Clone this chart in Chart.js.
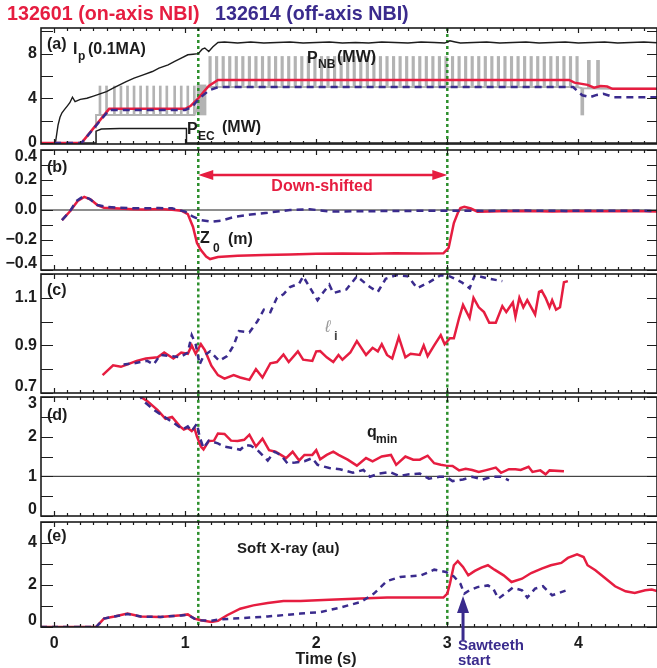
<!DOCTYPE html>
<html>
<head>
<meta charset="utf-8">
<script src="https://cdn.jsdelivr.net/npm/chart.js@4"></script>
<style>
  body { margin: 0; background: #fff; }
  #wrap { position: relative; width: 657px; height: 668px; overflow: hidden; }
  canvas { position: absolute; left: 0; }
</style>
</head>
<body>
<div id="wrap">
  <canvas id="pa"></canvas>
  <canvas id="pb"></canvas>
  <canvas id="pc"></canvas>
  <canvas id="pd"></canvas>
  <canvas id="pe"></canvas>
</div>
<script>
// ---- data (time in s) ----
const xTicks = [0, 1, 2, 3, 4]
const xLabels = ['0', '1', '2', '3', '4']
const switchTimes = [1.1, 3.0]   // green dotted markers

// (a) Ip, P_NB, P_EC
const ipT = [-0.1,0.01,0.03,0.045,0.06,0.08,0.1,0.12,0.14,0.16,0.2,0.25,0.3,0.35,0.4,0.45,0.5,0.55,0.61,0.68,0.75,0.8,0.87,0.92,0.97,1.02,1.06,1.1,1.13,1.15,1.18,1.21,1.25,1.3,1.4,1.5,1.6,1.7,1.8,1.9,2.0,2.1,2.2,2.3,2.4,2.5,2.6,2.7,2.8,2.9,2.98,3.02,3.06,3.1,3.2,3.3,3.4,3.5,3.6,3.7,3.8,3.9,4.0,4.1,4.2,4.3,4.4,4.5,4.6]
const ip = [0,0,1.6,2.3,2.7,3.0,3.3,3.6,4.1,3.7,3.9,4.0,4.2,4.4,4.6,4.9,5.2,5.5,5.8,6.1,6.4,6.7,7.0,7.3,7.6,7.9,7.95,8.0,8.4,8.5,8.2,8.6,9.0,9.05,8.95,9.05,8.95,9.0,9.05,8.95,9.0,9.05,8.95,9.0,8.95,9.05,9.0,8.95,9.05,9.0,8.95,9.15,9.05,8.95,9.0,9.05,8.95,9.0,9.05,8.95,9.0,9.05,8.95,9.0,9.05,8.95,9.0,9.05,8.98]
const pnbRedT = [-0.1,0.21,0.42,1.0,1.04,1.1,1.18,1.25,3.93,3.97,4.07,4.12,4.17,4.22,4.26,4.6]
const pnbRed = [0,0,3.05,3.05,3.3,4.0,5.1,5.64,5.64,5.4,5.2,4.95,5.1,5.05,4.85,4.85]
const pnbPurT = [0,0.21,0.42,1.0,1.05,1.1,1.18,1.25,3.96,4.03,4.09,4.14,4.19,4.27,4.6]
const pnbPur = [0,0,2.95,2.95,3.2,3.9,4.7,5.0,5.0,4.27,4.1,4.3,4.4,4.1,4.1]
const pecT = [-0.1,0.32,0.32,0.36,0.5,1.01,1.01,4.6]
const pec = [0,0,1.05,1.25,1.3,1.3,0,0]
const nbBaseT = [0.32,0.32,1.07,1.16,1.19,3.99,4.03,4.25,4.6]
const nbBase = [1.3,2.5,2.5,5.0,5.0,5.0,4.9,4.85,4.85]
const nbPulse1 = [0.35,0.40,0.46,0.51,0.56,0.61,0.66,0.71,0.76,0.81,0.86,0.92,0.97,1.02,1.07]
const nbPulse1Range = [2.5, 5.1]
const nbBlock = [1.125]
const nbBlockRange = [2.5, 5.2]
const nbPulse2 = [1.19,1.24,1.29,1.34,1.39,1.44,1.49,1.54,1.59,1.64,1.69,1.74,1.79,1.84,1.89,1.94,1.99,2.04,2.09,2.14,2.19,2.24,2.29,2.34,2.39,2.44,2.49,2.54,2.59,2.64,2.69,2.74,2.79,2.84,2.89,2.94,2.99,3.04,3.09,3.14,3.19,3.24,3.29,3.34,3.39,3.44,3.49,3.54,3.59,3.64,3.69,3.74,3.79,3.84,3.89,3.94,3.99]
const nbPulse2Range = [5.0, 7.75]
const nbPulse3 = [4.03, 4.08, 4.15]
const nbPulse3Lo = [2.5, 4.9, 4.9]
const nbPulse3Hi = [4.9, 7.4, 7.4]

// (b) Z0
const z0RedT = [0.06,0.12,0.18,0.23,0.28,0.33,0.38,0.5,0.6,0.7,0.8,0.9,0.97,1.02,1.06,1.09,1.12,1.16,1.19,1.25,1.4,1.6,1.8,2.0,2.2,2.4,2.6,2.8,2.97,3.01,3.05,3.08,3.1,3.13,3.18,3.23,3.4,3.6,3.8,4.0,4.2,4.4,4.6]
const z0Red = [-0.067,-0.01,0.06,0.087,0.07,0.033,0.015,0.01,0.005,0.003,0.006,0.002,-0.005,-0.027,-0.113,-0.22,-0.267,-0.31,-0.327,-0.313,-0.305,-0.3,-0.297,-0.292,-0.29,-0.292,-0.288,-0.29,-0.289,-0.253,-0.087,-0.02,0.013,0.022,0.01,-0.011,-0.008,-0.006,-0.01,-0.007,-0.009,-0.006,-0.01]
const z0PurT = [0.06,0.12,0.17,0.22,0.27,0.33,0.4,0.5,0.6,0.7,0.8,0.9,1.0,1.06,1.12,1.2,1.28,1.37,1.5,1.63,1.8,1.95,2.11,2.4,2.7,3.0,3.3,3.6,3.9,4.2,4.6]
const z0Pur = [-0.067,-0.01,0.06,0.089,0.075,0.033,0.02,0.015,0.012,0.012,0.013,0.011,-0.011,-0.045,-0.067,-0.078,-0.07,-0.047,-0.03,-0.018,0.0,0.005,-0.01,-0.008,-0.006,-0.005,-0.006,-0.004,-0.006,-0.005,-0.006]

// (c) li
const liRedT = [0.37,0.45,0.51,0.56,0.63,0.7,0.79,0.84,0.91,0.97,1.02,1.05,1.08,1.12,1.15,1.2,1.25,1.3,1.37,1.42,1.49,1.54,1.59,1.65,1.7,1.75,1.79,1.86,1.9,1.97,2.0,2.03,2.08,2.13,2.17,2.2,2.26,2.31,2.38,2.43,2.47,2.5,2.54,2.58,2.63,2.68,2.72,2.79,2.82,2.85,2.9,2.95,2.98,3.02,3.05,3.09,3.12,3.17,3.2,3.24,3.28,3.32,3.37,3.42,3.45,3.5,3.52,3.55,3.58,3.61,3.67,3.7,3.72,3.75,3.78,3.8,3.83,3.86,3.89,3.92]
const liRed = [0.775,0.816,0.81,0.82,0.835,0.845,0.85,0.87,0.845,0.87,0.865,0.9,0.865,0.905,0.88,0.815,0.775,0.76,0.775,0.765,0.755,0.8,0.765,0.825,0.83,0.862,0.83,0.875,0.84,0.835,0.875,0.876,0.85,0.83,0.86,0.84,0.87,0.918,0.86,0.89,0.875,0.905,0.86,0.845,0.935,0.85,0.865,0.86,0.9,0.855,0.9,0.943,0.905,0.93,0.93,1.015,1.07,1.015,1.1,1.06,1.04,0.995,0.995,1.065,1.04,1.08,1.02,1.1,1.06,1.09,1.03,1.125,1.13,1.1,1.06,1.09,1.05,1.06,1.165,1.17]
const liPurT = [0.53,0.61,0.71,0.76,0.81,0.89,0.96,1.02,1.05,1.08,1.11,1.14,1.19,1.26,1.32,1.37,1.41,1.49,1.55,1.6,1.65,1.7,1.75,1.8,1.87,1.9,1.96,2.01,2.05,2.1,2.13,2.23,2.31,2.41,2.47,2.53,2.61,2.7,2.77,2.86,2.95,3.02,3.11,3.17,3.21,3.32,3.42]
const liPur = [0.82,0.825,0.835,0.82,0.86,0.855,0.85,0.87,0.943,0.905,0.82,0.855,0.875,0.835,0.855,0.9,0.96,0.955,1.0,1.05,1.04,1.1,1.115,1.145,1.16,1.19,1.135,1.09,1.12,1.155,1.12,1.135,1.19,1.145,1.125,1.18,1.195,1.19,1.14,1.165,1.195,1.19,1.165,1.14,1.195,1.18,1.17]

// (d) qmin
const qRedT = [0.66,0.71,0.79,0.85,0.9,0.96,0.99,1.02,1.05,1.07,1.09,1.12,1.14,1.18,1.22,1.25,1.3,1.35,1.4,1.45,1.49,1.54,1.59,1.64,1.69,1.73,1.77,1.82,1.87,1.91,1.97,2.0,2.03,2.08,2.13,2.17,2.24,2.31,2.38,2.43,2.5,2.57,2.61,2.68,2.74,2.79,2.85,2.9,2.95,2.99,3.04,3.09,3.14,3.19,3.24,3.29,3.37,3.41,3.47,3.52,3.56,3.62,3.65,3.71,3.75,3.78,3.89]
const qRed = [3.0,2.9,2.67,2.45,2.5,2.26,2.18,2.22,2.14,2.22,2.0,1.75,1.68,1.89,1.9,2.08,2.07,1.9,1.89,1.92,2.05,1.75,1.95,1.66,1.62,1.54,1.46,1.62,1.4,1.54,1.54,1.66,1.43,1.54,1.62,1.54,1.42,1.27,1.46,1.38,1.5,1.54,1.29,1.5,1.42,1.42,1.52,1.33,1.29,1.27,1.26,1.15,1.19,1.16,1.11,1.15,1.22,1.09,1.18,1.18,1.16,1.24,1.11,1.15,1.05,1.15,1.13]
const qPurT = [0.64,0.68,0.76,0.84,0.92,0.98,1.02,1.05,1.09,1.11,1.14,1.18,1.25,1.3,1.37,1.42,1.46,1.5,1.55,1.63,1.68,1.73,1.78,1.84,1.91,1.97,2.01,2.1,2.18,2.28,2.36,2.41,2.48,2.56,2.63,2.71,2.79,2.86,2.94,2.99,3.04,3.12,3.19,3.27,3.34,3.41,3.47]
const qPur = [3.1,2.9,2.68,2.5,2.33,2.18,2.26,2.14,2.33,2.0,1.71,1.9,1.83,1.75,1.71,1.67,1.79,1.77,1.67,1.4,1.62,1.54,1.33,1.35,1.38,1.46,1.29,1.21,1.18,1.09,1.16,0.99,1.07,1.11,1.01,1.05,1.07,0.94,0.99,0.99,0.88,0.92,0.99,0.92,0.99,0.99,0.9]

// (e) soft x-ray
const sxRedT = [-0.1,0.32,0.35,0.38,0.46,0.56,0.66,0.81,0.97,1.02,1.07,1.12,1.2,1.25,1.32,1.42,1.52,1.63,1.75,1.88,2.01,2.1,2.29,2.54,2.8,2.97,3.0,3.02,3.05,3.08,3.12,3.16,3.21,3.26,3.31,3.36,3.43,3.49,3.57,3.64,3.72,3.79,3.87,3.92,3.99,4.04,4.07,4.13,4.21,4.28,4.36,4.43,4.51,4.56,4.6]
const sxRed = [0,0,0.2,0.4,0.5,0.64,0.5,0.48,0.56,0.6,0.4,0.32,0.24,0.29,0.56,0.87,1.03,1.14,1.24,1.24,1.27,1.3,1.35,1.4,1.4,1.4,1.59,2.06,2.94,3.14,2.86,2.46,2.67,2.83,2.94,2.73,2.46,2.14,2.3,2.57,2.78,2.94,3.05,3.29,3.46,3.33,2.94,2.7,2.3,1.94,1.7,1.62,1.75,1.78,1.71]
const sxPurT = [-0.1,0.32,0.35,0.38,0.46,0.56,0.66,0.81,0.97,1.02,1.07,1.12,1.2,1.25,1.37,1.63,1.88,2.03,2.18,2.34,2.44,2.54,2.64,2.8,2.9,2.99,3.05,3.1,3.13,3.17,3.23,3.31,3.35,3.39,3.44,3.5,3.57,3.61,3.67,3.73,3.8,3.85,3.91]
const sxPur = [0,0,0.2,0.4,0.5,0.62,0.5,0.48,0.55,0.58,0.4,0.32,0.3,0.35,0.4,0.5,0.64,0.71,0.92,1.19,1.59,2.19,2.38,2.46,2.73,2.62,2.41,2.06,1.59,1.75,1.9,1.98,1.83,1.35,1.59,1.87,1.75,1.4,1.83,1.94,1.51,1.62,1.75]
const sawteethT = 3.12

// y tick labels per panel
const aTicks = [0, 4, 8], aLabels = ['0', '4', '8']
const bTicks = [-0.4, -0.2, 0, 0.2, 0.4], bLabels = ['\u22120.4', '\u22120.2', '0.0', '0.2', '0.4']
const cTicks = [0.7, 0.9, 1.1], cLabels = ['0.7', '0.9', '1.1']
const dTicks = [0, 1, 2, 3], dLabels = ['0', '1', '2', '3']
const eTicks = [0, 2, 4], eLabels = ['0', '2', '4']

// ---- styling ----
const FONT = "'Liberation Sans', Arial, sans-serif"
const RED = '#e61d40'
const PURPLE = '#3a2b8d'
const GREEN = '#2c8f2c'
const GRAY = '#b3b3b3'
const INK = '#1c1c1c'
const DASH = [7, 5]

function pts(t, v) {
    return t.map((x, i) => ({ x: x, y: v[i] }))
}

function line(t, v, color, width, dash, order) {
    return {
        type: 'line', data: pts(t, v), borderColor: color, borderWidth: width,
        borderDash: dash || [], pointRadius: 0, tension: 0, fill: false, order: order
    }
}

function pulses(t, lo, hi, thick) {
    const data = t.map((x, i) => ({ x: x, y: [Array.isArray(lo) ? lo[i] : lo, Array.isArray(hi) ? hi[i] : hi] }))
    return { type: 'bar', data: data, backgroundColor: GRAY, borderWidth: 0, barThickness: thick, grouped: false, order: 20 }
}

function greenLines(lo, hi) {
    return switchTimes.map(t => {
        const ds = line([t, t], [lo, hi], GREEN, 2.5, [3, 3], 15)
        ds.clip = false
        return ds
    })
}

function text(ctx, s, x, y, size, color, align, style) {
    ctx.font = (style || 'bold') + ' ' + size + 'px ' + FONT
    ctx.fillStyle = color || INK
    ctx.textAlign = align || 'left'
    ctx.textBaseline = 'middle'
    ctx.fillText(s, x, y)
}

function noPad(s) {
    s.paddingTop = 0; s.paddingBottom = 0; s.paddingLeft = 0; s.paddingRight = 0
}

// frame + inward tick marks
function framePlugin(lay) {
    return {
        id: 'frame',
        afterDatasetsDraw(chart) {
            const { ctx, chartArea: a, scales: { x, y } } = chart
            ctx.save()
            ctx.strokeStyle = INK
            ctx.lineWidth = 1.2
            ctx.beginPath()
            const k0 = Math.ceil(lay.min / lay.step - 1e-6)
            for (let k = k0; k * lay.step <= lay.max + 1e-6; k++) {
                const py = Math.round(y.getPixelForValue(k * lay.step)) + 0.5
                ctx.moveTo(a.left, py); ctx.lineTo(a.left + 12, py)
                ctx.moveTo(a.right, py); ctx.lineTo(a.right - 10, py)
            }
            for (let k = 0; k <= 46; k++) {
                const px = Math.round(x.getPixelForValue(k / 10)) + 0.5
                const len = k % 10 === 0 ? 5 : 3
                ctx.moveTo(px, a.bottom); ctx.lineTo(px, a.bottom - len)
                ctx.moveTo(px, a.top); ctx.lineTo(px, a.top + len)
            }
            ctx.stroke()
            ctx.lineWidth = 1.6
            ctx.strokeRect(a.left, a.top, a.right - a.left, a.bottom - a.top)
            ctx.restore()
        }
    }
}

function notesPlugin(lay, draw) {
    return {
        id: 'notes',
        afterDraw(chart) {
            const ctx = chart.ctx
            ctx.save()
            ctx.translate(0, -lay.top)
            draw(ctx, chart)
            ctx.restore()
        }
    }
}

function makePanel(id, lay, datasets, ticks, labels, notes, bottom) {
    const canvas = document.getElementById(id)
    canvas.width = 657
    canvas.height = lay.h
    canvas.style.top = lay.top + 'px'
    const tickFont = { family: FONT, size: 16, weight: 'bold', lineHeight: 0.8 }
    return new Chart(canvas, {
        type: 'line',
        data: { datasets: datasets },
        options: {
            responsive: false,
            animation: false,
            devicePixelRatio: 1,
            layout: { autoPadding: false, padding: { top: lay.pad[0], bottom: lay.pad[1], left: 0, right: 0 } },
            plugins: { legend: { display: false }, tooltip: { enabled: false } },
            scales: {
                x: {
                    type: 'linear', min: -0.1, max: 4.6, offset: false, display: !!bottom,
                    grid: { display: false, drawTicks: false, offset: false }, border: { display: false },
                    afterBuildTicks: s => { s.ticks = xTicks.map(v => ({ value: v })) },
                    afterFit: s => { s.height = bottom ? 41 : 0; noPad(s) },
                    ticks: {
                        font: { family: FONT, size: 16, weight: 'bold' }, color: INK, padding: 7,
                        maxRotation: 0, autoSkip: false,
                        callback: (v) => xLabels[xTicks.indexOf(v)]
                    }
                },
                y: {
                    type: 'linear', min: lay.min, max: lay.max,
                    grid: { display: false, drawTicks: false }, border: { display: false },
                    afterBuildTicks: s => { s.ticks = ticks.map(v => ({ value: v })) },
                    afterFit: s => { s.width = 41; noPad(s) },
                    ticks: {
                        font: tickFont, color: INK, padding: 4, autoSkip: false,
                        callback: (v) => {
                            const lbl = labels[ticks.indexOf(v)]
                            if (Math.abs(v - lay.max) < 1e-6) return ['', lbl]
                            if (Math.abs(v - lay.min) < 1e-6) return [lbl, '']
                            return lbl
                        }
                    }
                }
            }
        },
        plugins: [framePlugin(lay), notesPlugin(lay, notes)]
    })
}

// ---- layout (page pixels) ----
const L = {
    a: { top: 0, h: 150, pad: [28, 6], min: -0.1, max: 10.3, step: 2 },
    b: { top: 144, h: 132, pad: [6, 6], min: -0.4, max: 0.4, step: 0.1 },
    c: { top: 268, h: 131, pad: [6, 6], min: 0.7, max: 1.2, step: 0.1 },
    d: { top: 390, h: 132, pad: [7, 6], min: 0, max: 3, step: 0.5 },
    e: { top: 515, h: 153, pad: [7, 0], min: 0, max: 5, step: 1 }
}

makePanel('pa', L.a, [
    ...greenLines(10.3, -0.4),
    pulses(nbPulse1, nbPulse1Range[0], nbPulse1Range[1], 2),
    pulses(nbBlock, nbBlockRange[0], nbBlockRange[1], 9),
    pulses(nbPulse2, nbPulse2Range[0], nbPulse2Range[1], 2.5),
    pulses(nbPulse3, nbPulse3Lo, nbPulse3Hi, 3),
    line(nbBaseT, nbBase, GRAY, 2, null, 19),
    line(ipT, ip, INK, 1.4, null, 5),
    line(pecT, pec, INK, 1.5, null, 5),
    line(pnbRedT, pnbRed, RED, 2.5, null, 2),
    line(pnbPurT, pnbPur, PURPLE, 2.5, DASH, 1)
], aTicks, aLabels, (ctx) => {
    text(ctx, '132601 (on-axis NBI)', 7, 15, 19.7, RED)
    text(ctx, '132614 (off-axis NBI)', 215, 15, 19.7, PURPLE)
    text(ctx, '(a)', 47, 45, 16)
    text(ctx, 'I', 73, 50, 16)
    text(ctx, 'p', 78, 57, 12)
    text(ctx, '(0.1MA)', 88, 50, 16)
    text(ctx, 'P', 307, 59, 16)
    text(ctx, 'NB', 318, 65, 12)
    text(ctx, '(MW)', 337, 58, 16)
    text(ctx, 'P', 187, 130, 16)
    text(ctx, 'EC', 198, 137, 12)
    text(ctx, '(MW)', 222, 128, 16)
})

makePanel('pb', L.b, [
    ...greenLines(0.42, -0.42),
    line([-0.1, 4.6], [0, 0], INK, 1, null, 6),
    line(z0RedT, z0Red, RED, 2.5, null, 2),
    line(z0PurT, z0Pur, PURPLE, 2.5, DASH, 1)
], bTicks, bLabels, (ctx, chart) => {
    const x = chart.scales.x
    const x1 = x.getPixelForValue(switchTimes[0]), x2 = x.getPixelForValue(switchTimes[1]), yy = 175
    ctx.strokeStyle = RED; ctx.fillStyle = RED; ctx.lineWidth = 2.5
    ctx.beginPath(); ctx.moveTo(x1 + 10, yy); ctx.lineTo(x2 - 10, yy); ctx.stroke()
    ctx.beginPath(); ctx.moveTo(x1, yy); ctx.lineTo(x1 + 15, yy - 5); ctx.lineTo(x1 + 15, yy + 5); ctx.closePath(); ctx.fill()
    ctx.beginPath(); ctx.moveTo(x2, yy); ctx.lineTo(x2 - 15, yy - 5); ctx.lineTo(x2 - 15, yy + 5); ctx.closePath(); ctx.fill()
    text(ctx, '(b)', 47, 168, 16)
    text(ctx, 'Down-shifted', 322, 187, 16, RED, 'center')
    text(ctx, 'Z', 200, 239, 16)
    text(ctx, '0', 213, 249, 12)
    text(ctx, '(m)', 228, 240, 16)
})

makePanel('pc', L.c, [
    ...greenLines(1.215, 0.685),
    line(liRedT, liRed, RED, 2.5, null, 2),
    line(liPurT, liPur, PURPLE, 2.5, [6, 5], 1)
], cTicks, cLabels, (ctx) => {
    text(ctx, '(c)', 47, 291, 16)
    text(ctx, '\u2113', 325, 327, 17, '#9a9a9a', 'left', 'italic')
    text(ctx, 'i', 334, 336, 13, '#444')
})

makePanel('pd', L.d, [
    ...greenLines(3.08, -0.08),
    line([-0.1, 4.6], [1, 1], INK, 1, null, 6),
    line(qRedT, qRed, RED, 2.5, null, 2),
    line(qPurT, qPur, PURPLE, 2.5, DASH, 1)
], dTicks, dLabels, (ctx) => {
    text(ctx, '(d)', 47, 416, 16)
    text(ctx, 'q', 367, 433, 16)
    text(ctx, 'min', 376, 440, 12)
})

makePanel('pe', L.e, [
    ...greenLines(5.1, 0),
    line(sxRedT, sxRed, RED, 2.5, null, 2),
    line(sxPurT, sxPur, PURPLE, 2.5, [6, 5], 1)
], eTicks, eLabels, (ctx, chart) => {
    const xa = chart.scales.x.getPixelForValue(sawteethT)
    ctx.strokeStyle = PURPLE; ctx.fillStyle = PURPLE; ctx.lineWidth = 3
    ctx.beginPath(); ctx.moveTo(xa, 640); ctx.lineTo(xa, 610); ctx.stroke()
    ctx.beginPath(); ctx.moveTo(xa, 596); ctx.lineTo(xa - 6, 613); ctx.lineTo(xa + 6, 613); ctx.closePath(); ctx.fill()
    text(ctx, '(e)', 47, 537, 16)
    text(ctx, 'Soft X-ray (au)', 237, 549, 15)
    text(ctx, 'Sawteeth', 458, 646, 15, PURPLE)
    text(ctx, 'start', 458, 661, 15, PURPLE)
    text(ctx, 'Time (s)', 326, 660, 16, INK, 'center')
}, true)
</script>
</body>
</html>
